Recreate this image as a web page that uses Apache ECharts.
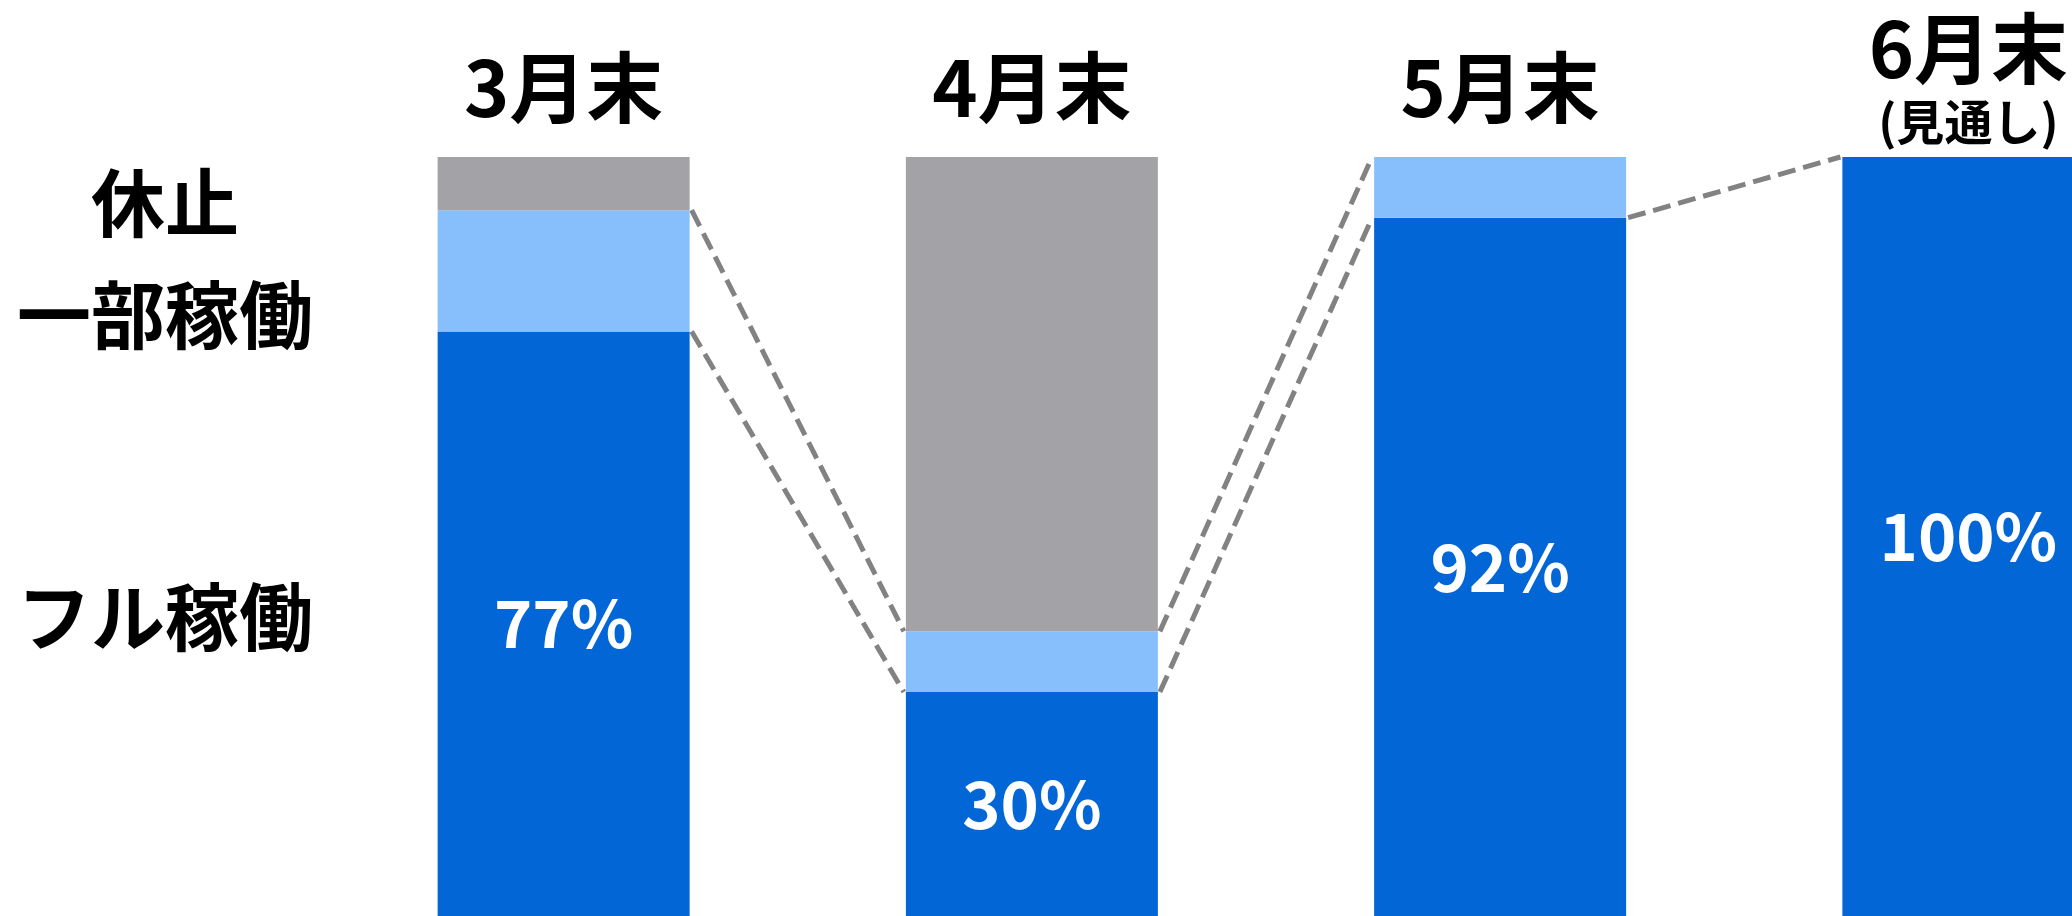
<!DOCTYPE html>
<html>
<head>
<meta charset="utf-8">
<script src="https://cdn.jsdelivr.net/npm/echarts@6/dist/echarts.min.js"></script>
<style>
html,body{margin:0;padding:0;background:#fff;}
#main{width:2072px;height:916px;}
</style>
</head>
<body>
<div id="main"></div>
<script>
// ---- data ----
var categories = ['3月末', '4月末', '5月末', '6月末'];
var categoryNotes = ['', '', '', '(見通し)'];
var seriesNames = ['フル稼働', '一部稼働', '休止'];
var fullData = [77, 29.5, 92, 100];
var partialData = [16, 8, 8, 0];
var stoppedData = [7, 62.5, 0, 0];

// ---- styles ----
var BAR_WIDTH = 252;
var FONT = '"Noto Sans CJK JP", "Noto Sans", sans-serif';
var COLORS = ['#0366d6', '#87bffd', '#a3a2a7'];
var LEGEND_POS = [[165, 617], [165, 315], [165, 203]];

// connector lines between stack tops
var fullTop = fullData.slice();
var partialTop = fullData.map(function (v, i) { return v + partialData[i]; });
var connectors = [];
[fullTop, partialTop].forEach(function (tops) {
  for (var i = 0; i < tops.length - 1; i++) {
    if (tops[i] >= 100 && tops[i + 1] >= 100) continue;
    connectors.push([i, tops[i], tops[i + 1]]);
  }
});

var chart = echarts.init(document.getElementById('main'));
chart.setOption({
  animation: false,
  grid: {
    left: 329.5, top: 157, width: 1873, height: 759,
    containLabel: false, outerBoundsMode: 'none'
  },
  xAxis: {
    type: 'category',
    position: 'top',
    data: categories,
    axisLine: { show: false },
    axisTick: { show: false },
    axisLabel: {
      interval: 0,
      margin: 7,
      color: '#000',
      fontFamily: FONT,
      fontWeight: 'bold',
      formatter: function (value, index) {
        var note = categoryNotes[index];
        return note ? '{c|' + value + '}\n{b|' + note + '}' : '{a|' + value + '}';
      },
      rich: {
        a: { fontSize: 77, lineHeight: 124, fontWeight: 'bold', fontFamily: FONT, color: '#000' },
        c: { fontSize: 77, lineHeight: 91, fontWeight: 'bold', fontFamily: FONT, color: '#000' },
        b: { fontSize: 48, lineHeight: 56, fontWeight: 'bold', fontFamily: FONT, color: '#000' }
      }
    }
  },
  yAxis: { type: 'value', min: 0, max: 100, show: false },
  graphic: seriesNames.map(function (name, k) {
    return {
      type: 'text',
      x: LEGEND_POS[k][0], y: LEGEND_POS[k][1],
      style: {
        text: name,
        fill: '#000',
        font: 'bold 74px ' + FONT,
        textAlign: 'center',
        textVerticalAlign: 'middle'
      }
    };
  }),
  series: [
    {
      name: seriesNames[0], type: 'bar', stack: 'all', barWidth: BAR_WIDTH,
      data: fullData, itemStyle: { color: COLORS[0] },
      label: {
        show: true, position: 'inside', color: '#fff',
        fontFamily: FONT, fontWeight: 'bold', fontSize: 65,
        formatter: function (p) { return Math.round(p.value) + '%'; }
      }
    },
    {
      name: seriesNames[1], type: 'bar', stack: 'all', barWidth: BAR_WIDTH,
      data: partialData, itemStyle: { color: COLORS[1] }
    },
    {
      name: seriesNames[2], type: 'bar', stack: 'all', barWidth: BAR_WIDTH,
      data: stoppedData, itemStyle: { color: COLORS[2] }
    },
    {
      type: 'custom',
      data: connectors,
      encode: { x: 0, y: [1, 2] },
      z: 1,
      silent: true,
      clip: false,
      renderItem: function (params, api) {
        var i = api.value(0);
        var p0 = api.coord([i, api.value(1)]);
        var p1 = api.coord([i + 1, api.value(2)]);
        var half = BAR_WIDTH / 2;
        return {
          type: 'line',
          shape: { x1: p0[0] + half + 2, y1: p0[1], x2: p1[0] - half - 2, y2: p1[1] },
          style: { stroke: '#828282', lineWidth: 5, lineDash: [18, 8], fill: null }
        };
      }
    }
  ]
});
</script>
</body>
</html>
